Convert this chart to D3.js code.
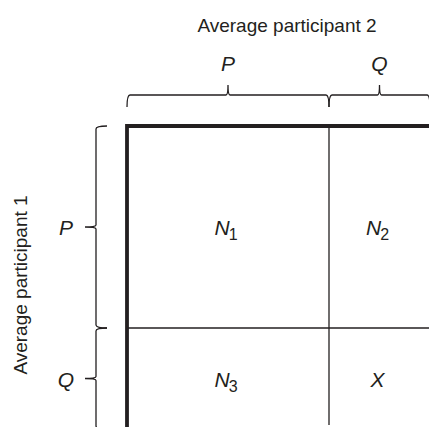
<!DOCTYPE html>
<html>
<head>
<meta charset="utf-8">
<script src="https://cdn.jsdelivr.net/npm/d3@7"></script>
<style>
  body { margin: 0; background: #fff; }
  text { font-family: "Liberation Sans", Arial, Helvetica, sans-serif; fill: #231f20; }
</style>
</head>
<body>
<div id="chart"></div>
<script>
// strategies for each player, and how much of the picture each one takes
const colLabels = ["P", "Q"];
const rowLabels = ["P", "Q"];
const colSpan = [2, 1];
const rowSpan = [2, 1];
// payoff cells: [symbol, subscript], row by row
const cellLabels = [["N", "1"], ["N", "2"], ["N", "3"], ["X", ""]];
const xTitle = "Average participant 2";
const yTitle = "Average participant 1";

const W = 429, H = 427;
const ink = "#231f20";

const svg = d3.select("#chart").append("svg")
  .attr("width", W).attr("height", H);

const colEdges = [0, ...d3.cumsum(colSpan)];
const rowEdges = [0, ...d3.cumsum(rowSpan)];

const x = d3.scaleLinear().domain([0, d3.sum(colSpan)]).range([127, 430]);
const y = d3.scaleLinear().domain([0, d3.sum(rowSpan)]).range([126, 429]);

// grid lines (thin)
const grid = svg.append("g").attr("stroke", ink).attr("stroke-width", 1.3);
colEdges.slice(1).forEach(c => {
  grid.append("line")
    .attr("x1", x(c)).attr("x2", x(c))
    .attr("y1", y(0)).attr("y2", 425);
});
rowEdges.slice(1).forEach(r => {
  grid.append("line")
    .attr("x1", x(0)).attr("x2", x(colEdges[colEdges.length - 1]))
    .attr("y1", y(r)).attr("y2", y(r));
});

// thick top + left border
svg.append("path")
  .attr("d", `M${x(0)},${H}V${y(0)}H${W}`)
  .attr("fill", "none").attr("stroke", ink).attr("stroke-width", 3.8);

// cell labels
const cells = [];
rowLabels.forEach((r, i) => colLabels.forEach((c, j) => {
  cells.push({
    cx: (x(colEdges[j]) + x(colEdges[j + 1])) / 2,
    cy: (y(rowEdges[i]) + y(rowEdges[i + 1])) / 2,
    lab: cellLabels[i * colLabels.length + j]
  });
}));
const ct = svg.selectAll(".cell").data(cells).enter().append("text")
  .attr("class", "cell")
  .attr("x", d => d.cx - 2)
  .attr("y", d => d.cy + 8)
  .attr("text-anchor", "middle")
  .style("font-size", "21px");
ct.append("tspan").style("font-style", "italic").text(d => d.lab[0]);
ct.append("tspan").attr("dy", 5).attr("dx", -1).style("font-size", "16px").text(d => d.lab[1]);

// brace path helpers
function hBrace(x1, x2, yy, up, down) {
  const m = (x1 + x2) / 2;
  return `M${x1},${yy + down}Q${x1},${yy} ${x1 + 3},${yy}L${m - 2},${yy}` +
    `Q${m},${yy} ${m},${yy - up}Q${m},${yy} ${m + 2},${yy}` +
    `L${x2 - 3},${yy}Q${x2},${yy} ${x2},${yy + down}`;
}
function vBrace(y1, y2, xx, out, inn) {
  const m = (y1 + y2) / 2;
  return `M${xx + inn},${y1}Q${xx},${y1} ${xx},${y1 + 3}L${xx},${m - 2}` +
    `Q${xx},${m} ${xx - out},${m}Q${xx},${m} ${xx},${m + 2}` +
    `L${xx},${y2 - 3}Q${xx},${y2} ${xx + inn},${y2}`;
}

const braces = svg.append("g").attr("fill", "none").attr("stroke", ink).attr("stroke-width", 1.3);
colLabels.forEach((c, j) => {
  const x1 = x(colEdges[j]), x2 = x(colEdges[j + 1]);
  braces.append("path").attr("d", hBrace(x1, x2, 95, 10, 12));
  svg.append("text")
    .attr("x", (x1 + x2) / 2).attr("y", 71)
    .attr("text-anchor", "middle")
    .style("font-size", "21px").style("font-style", "italic")
    .text(c);
});
rowLabels.forEach((r, i) => {
  const y1 = y(rowEdges[i]), y2 = y(rowEdges[i + 1]);
  braces.append("path").attr("d", vBrace(y1, y2, 96, 11, 11));
  svg.append("text")
    .attr("x", 66).attr("y", (y1 + y2) / 2 + 8)
    .attr("text-anchor", "middle")
    .style("font-size", "21px").style("font-style", "italic")
    .text(r);
});

// titles
svg.append("text")
  .attr("x", 287).attr("y", 32)
  .attr("text-anchor", "middle")
  .style("font-size", "19px")
  .text(xTitle);
svg.append("text")
  .attr("transform", "translate(27,285) rotate(-90)")
  .attr("text-anchor", "middle")
  .style("font-size", "19px")
  .text(yTitle);
</script>
</body>
</html>
